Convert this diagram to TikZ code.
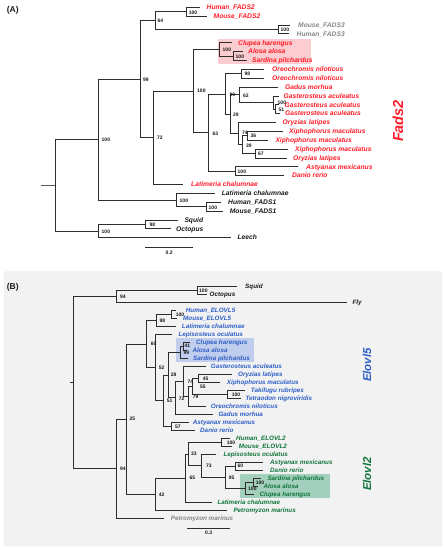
\documentclass[tikz,border=0pt]{standalone}
\usepackage{fontspec}
\setmainfont{Liberation Sans}
\definecolor{lc}{RGB}{45,45,45}
\definecolor{fred}{RGB}{255,28,40}
\definecolor{fblue}{RGB}{45,95,200}
\definecolor{fgreen}{RGB}{18,118,58}
\definecolor{fgray}{RGB}{135,135,135}
\definecolor{fblack}{RGB}{25,25,25}
\definecolor{pinkbox}{RGB}{252,205,208}
\definecolor{bluebox}{RGB}{193,205,236}
\definecolor{greenbox}{RGB}{162,208,188}
\definecolor{panelbg}{RGB}{242,242,242}
\definecolor{panelbd}{RGB}{228,228,228}
% leaf: id, parent, y, line end x, label x, colour, style, text
\newcommand\treeleaf[8]{%
  \coordinate (e#1) at (#4,#3);
  \draw[br] (#2) |- (e#1);
  \node[#7, text=#6] (t#1) at (#5,#3) {#8};}
\newcommand\bsv[4]{\node[bsl] (#1) at (#2,#3) {#4};}
\newcommand\edge[2]{\draw[br] (#1) |- (#2);}
\begin{document}
\begin{tikzpicture}[x=1pt,y=-1pt,
  br/.style={draw=lc, line width=0.8pt},
  lfA/.style={font=\fontsize{6.7}{7}\selectfont\bfseries\itshape, inner sep=0pt, anchor=base west, yshift=-2.3pt},
  lfB/.style={font=\fontsize{6.3}{7}\selectfont\bfseries\itshape, inner sep=0pt, anchor=base west, yshift=-2.2pt},
  bsl/.style={font=\fontsize{5}{5}\selectfont\bfseries, text=fblack, inner sep=0pt, anchor=west},
  plab/.style={font=\fontsize{8.5}{9}\selectfont\bfseries, text=fblack, inner sep=0pt, anchor=west},
  clab/.style={font=\bfseries\itshape, inner sep=0pt, rotate=90}]
\useasboundingbox (0,0) rectangle (446,550);

% ---------- backgrounds ----------
\path[fill=panelbg, draw=panelbd, rounded corners=3pt] (4,271.5) rectangle (442,546);
\path[fill=pinkbox] (218,39) rectangle (311,63.5);
\path[fill=bluebox] (176,338.3) rectangle (253.5,362);
\path[fill=greenbox] (240,474) rectangle (330,497.7);

% ================= PANEL A =================
\node[plab] (labA) at (6.7,10.3) {(A)};
\coordinate (aR0) at (40.7,185.3);
\coordinate (aR) at (55,185.3);
\coordinate (a100a) at (98,139.585);
\coordinate (aInv) at (98,231.015);
\coordinate (a99) at (140,79.165);
\coordinate (aF1a) at (176,200.005);
\coordinate (aF1) at (206,206.65);
\coordinate (a64) at (155,20.59);
\coordinate (a72) at (153,137.74);
\coordinate (aF2) at (186,11.73);
\coordinate (aF3) at (278,29.45);
\coordinate (a100b) at (193,90.985);
\coordinate (aClu) at (219,49.385);
\coordinate (aAS) at (233,56.03);
\coordinate (a63) at (208.7,132.585);
\coordinate (aX) at (225.5,93.96);
\coordinate (aOre) at (241.7,73.75);
\coordinate (a29) at (230.3,114.17);
\coordinate (a62) at (239.5,94.79);
\coordinate (aGB) at (273.3,102.545);
\coordinate (aGA) at (275.3,109.19);
\coordinate (a74) at (238,133.555);
\coordinate (a39) at (242.7,144.63);
\coordinate (a36) at (247,135.77);
\coordinate (a67) at (255.3,153.49);
\coordinate (aAD) at (235,171.21);
\coordinate (aSO) at (145.7,224.37);

\draw[br, line width=1.4pt, draw=lc!80] (aR0) -- (aR);
\edge{aR}{a100a} \edge{aR}{aInv}
\edge{a100a}{a99} \edge{a100a}{aF1a}
\edge{a99}{a64} \edge{a99}{a72}
\edge{a64}{aF2} \edge{a64}{aF3}
\edge{a72}{a100b}
\edge{a100b}{aClu} \edge{a100b}{a63}
\edge{aClu}{aAS}
\edge{a63}{aX} \edge{a63}{aAD}
\edge{aX}{aOre} \edge{aX}{a29}
\edge{a29}{a62} \edge{a29}{a74}
\edge{a62}{aGB} \edge{aGB}{aGA}
\edge{a74}{a39}
\edge{a39}{a36} \edge{a39}{a67}
\edge{aF1a}{aF1}
\edge{aInv}{aSO}

\treeleaf{a1}{aF2}{7.3}{200}{206.5}{fred}{lfA}{Human\_FADS2}
\treeleaf{a2}{aF2}{16.16}{207}{213.5}{fred}{lfA}{Mouse\_FADS2}
\treeleaf{a3}{aF3}{25.02}{290}{298}{fgray}{lfA}{Mouse\_FADS3}
\treeleaf{a4}{aF3}{33.88}{289}{296.5}{fgray}{lfA}{Human\_FADS3}
\treeleaf{a5}{aClu}{42.74}{232}{238}{fred}{lfA}{Clupea harengus}
\treeleaf{a6}{aAS}{51.6}{243}{248}{fred}{lfA}{Alosa alosa}
\treeleaf{a7}{aAS}{60.46}{247}{252}{fred}{lfA}{Sardina pilchardus}
\treeleaf{a8}{aOre}{69.32}{264}{272}{fred}{lfA}{Oreochromis niloticus}
\treeleaf{a9}{aOre}{78.18}{264}{272}{fred}{lfA}{Oreochromis niloticus}
\treeleaf{a10}{a62}{87.04}{278}{285}{fred}{lfA}{Gadus morhua}
\treeleaf{a11}{aGB}{95.9}{279}{283.5}{fred}{lfA}{Gasterosteus aculeatus}
\treeleaf{a12}{aGA}{104.76}{279}{284.5}{fred}{lfA}{Gasterosteus aculeatus}
\treeleaf{a13}{aGA}{113.62}{280}{285}{fred}{lfA}{Gasterosteus aculeatus}
\treeleaf{a14}{a74}{122.48}{276}{282.5}{fred}{lfA}{Oryzias latipes}
\treeleaf{a15}{a36}{131.34}{283}{289}{fred}{lfA}{Xiphophorus maculatus}
\treeleaf{a16}{a36}{140.2}{268}{275.3}{fred}{lfA}{Xiphophorus maculatus}
\treeleaf{a17}{a67}{149.06}{288}{295}{fred}{lfA}{Xiphophorus maculatus}
\treeleaf{a18}{a67}{157.92}{287}{293}{fred}{lfA}{Oryzias latipes}
\treeleaf{a19}{aAD}{166.78}{298}{306}{fred}{lfA}{Astyanax mexicanus}
\treeleaf{a20}{aAD}{175.64}{284}{292}{fred}{lfA}{Danio rerio}
\treeleaf{a21}{a72}{184.5}{183}{191}{fred}{lfA}{Latimeria chalumnae}
\treeleaf{a22}{aF1a}{193.36}{215}{221.7}{fblack}{lfA}{Latimeria chalumnae}
\treeleaf{a23}{aF1}{202.22}{221}{228}{fblack}{lfA}{Human\_FADS1}
\treeleaf{a24}{aF1}{211.08}{223}{229.7}{fblack}{lfA}{Mouse\_FADS1}
\treeleaf{a25}{aSO}{219.94}{178}{184.3}{fblack}{lfA}{Squid}
\treeleaf{a26}{aSO}{228.8}{171}{176}{fblack}{lfA}{Octopus}
\treeleaf{a27}{aInv}{237.66}{231}{237.3}{fblack}{lfA}{Leech}

\bsv{ba1}{188.7}{12.3}{100}
\bsv{ba2}{157.5}{21}{64}
\bsv{ba3}{280.5}{30}{100}
\bsv{ba4}{143}{80}{99}
\bsv{ba5}{222.5}{50}{100}
\bsv{ba6}{235.5}{57}{100}
\bsv{ba7}{244.5}{74}{98}
\bsv{ba8}{197}{91}{100}
\bsv{ba9}{229.5}{94.3}{99}
\bsv{ba10}{243}{95.7}{62}
\bsv{ba11}{277.5}{102.7}{100}
\bsv{ba12}{278.5}{109.5}{51}
\bsv{ba13}{233}{115}{29}
\bsv{ba14}{242}{132.3}{74}
\bsv{ba15}{250.5}{136}{36}
\bsv{ba16}{246}{145.5}{39}
\bsv{ba17}{258}{154}{67}
\bsv{ba18}{212.5}{133.3}{63}
\bsv{ba19}{237.5}{171.5}{100}
\bsv{ba20}{157}{137.5}{72}
\bsv{ba21}{179.5}{200.5}{100}
\bsv{ba22}{208.5}{207.5}{100}
\bsv{ba23}{101.5}{140}{100}
\bsv{ba24}{149.5}{225}{98}
\bsv{ba25}{101.5}{231.5}{100}

\coordinate (sa1) at (145,247.7);
\coordinate (sa2) at (193.3,247.7);
\draw[br] (sa1) -- (sa2);
\node[font=\fontsize{5}{5}\selectfont\bfseries, text=fblack, inner sep=0pt] (sal) at (169.2,253) {0.2};
\node[clab, text=fred, font=\fontsize{14.5}{15}\selectfont\bfseries\itshape] (fads) at (398,121) {Fads2};

% ================= PANEL B =================
\node[plab] (labB) at (6.7,287.3) {(B)};
\coordinate (bR0) at (70,382.6);
\coordinate (bR) at (73.3,382.6);
\coordinate (b94a) at (116.7,296.67);
\coordinate (bSO) at (197.7,290.69);
\coordinate (b94b) at (116.7,468.535);
\coordinate (b25) at (126,419.07);
\coordinate (b60) at (146.5,344.12);
\coordinate (b98) at (156.7,320.6);
\coordinate (bHM5) at (171.7,314.615);
\coordinate (b52) at (155,367.645);
\coordinate (b51) at (163.3,400.73);
\coordinate (b28) at (168.3,375.185);
\coordinate (b99) at (180,352.5);
\coordinate (b41) at (183.3,346.52);
\coordinate (b72) at (175,397.87);
\coordinate (b74) at (183.3,381.415);
\coordinate (b79) at (188.5,396.37);
\coordinate (b55) at (192,386.4);
\coordinate (b45) at (198.3,378.425);
\coordinate (bTT) at (227.7,394.375);
\coordinate (bAD5) at (171,426.28);
\coordinate (b42) at (155,494.015);
\coordinate (b65) at (185,478.0);
\coordinate (b33) at (188,453.95);
\coordinate (bHM2) at (221.7,442.23);
\coordinate (b73) at (201.7,465.665);
\coordinate (b95) at (225,477.13);
\coordinate (b60g) at (235,466.16);
\coordinate (b100d) at (245,488.095);
\coordinate (b100c) at (253.3,482.11);

\draw[br] (bR0) -- (bR);
\edge{bR}{b94a} \edge{bR}{b94b}
\edge{b94a}{bSO}
\edge{b94b}{b25}
\edge{b25}{b60} \edge{b25}{b42}
\edge{b60}{b98} \edge{b60}{b52}
\edge{b98}{bHM5}
\edge{b52}{b51}
\edge{b51}{b28} \edge{b51}{bAD5}
\edge{b28}{b99} \edge{b28}{b72}
\edge{b99}{b41}
\edge{b72}{b74}
\edge{b74}{b79}
\edge{b79}{b55}
\edge{b55}{b45} \edge{b55}{bTT}
\edge{b42}{b65}
\edge{b65}{b33}
\edge{b33}{bHM2} \edge{b33}{b73}
\edge{b73}{b95}
\edge{b95}{b60g} \edge{b95}{b100d}
\edge{b100d}{b100c}

\treeleaf{b1}{bSO}{286.7}{237}{245}{fblack}{lfB}{Squid}
\treeleaf{b2}{bSO}{294.68}{207}{209.5}{fblack}{lfB}{Octopus}
\treeleaf{b3}{b94a}{302.65}{346.7}{352.3}{fblack}{lfB}{Fly}
\treeleaf{b4}{bHM5}{310.63}{176}{185.7}{fblue}{lfB}{Human\_ELOVL5}
\treeleaf{b5}{bHM5}{318.6}{177}{183}{fblue}{lfB}{Mouse\_ELOVL5}
\treeleaf{b6}{b98}{326.58}{176}{181.7}{fblue}{lfB}{Latimeria chalumnae}
\treeleaf{b7}{b52}{334.56}{172}{178.3}{fblue}{lfB}{Lepisosteus oculatus}
\treeleaf{b8}{b41}{342.53}{190}{196}{fblue}{lfB}{Clupea harengus}
\treeleaf{b9}{b41}{350.51}{187}{192.3}{fblue}{lfB}{Alosa alosa}
\treeleaf{b10}{b99}{358.48}{188}{193}{fblue}{lfB}{Sardina pilchardus}
\treeleaf{b11}{b74}{366.46}{206}{210.7}{fblue}{lfB}{Gasterosteus aculeatus}
\treeleaf{b12}{b45}{374.44}{232}{238}{fblue}{lfB}{Oryzias latipes}
\treeleaf{b13}{b45}{382.41}{220}{226.7}{fblue}{lfB}{Xiphophorus maculatus}
\treeleaf{b14}{bTT}{390.39}{245}{250.7}{fblue}{lfB}{Takifugu rubripes}
\treeleaf{b15}{bTT}{398.36}{241}{245.3}{fblue}{lfB}{Tetraodon nigroviridis}
\treeleaf{b16}{b79}{406.34}{206}{210.7}{fblue}{lfB}{Oreochromis niloticus}
\treeleaf{b17}{b72}{414.32}{213}{218.3}{fblue}{lfB}{Gadus morhua}
\treeleaf{b18}{bAD5}{422.29}{189}{192.7}{fblue}{lfB}{Astyanax mexicanus}
\treeleaf{b19}{bAD5}{430.27}{195}{200}{fblue}{lfB}{Danio rerio}
\treeleaf{b20}{bHM2}{438.24}{230}{236}{fgreen}{lfB}{Human\_ELOVL2}
\treeleaf{b21}{bHM2}{446.22}{232}{238.7}{fgreen}{lfB}{Mouse\_ELOVL2}
\treeleaf{b22}{b73}{454.2}{216}{223.3}{fgreen}{lfB}{Lepisosteus oculatus}
\treeleaf{b23}{b60g}{462.17}{263}{270}{fgreen}{lfB}{Astyanax mexicanus}
\treeleaf{b24}{b60g}{470.15}{263}{270}{fgreen}{lfB}{Danio rerio}
\treeleaf{b25}{b100c}{478.12}{261}{267.3}{fgreen}{lfB}{Sardina pilchardus}
\treeleaf{b26}{b100c}{486.1}{258}{263.3}{fgreen}{lfB}{Alosa alosa}
\treeleaf{b27}{b100d}{494.08}{254}{259.3}{fgreen}{lfB}{Clupea harengus}
\treeleaf{b28}{b65}{502.05}{212}{217.3}{fgreen}{lfB}{Latimeria chalumnae}
\treeleaf{b29}{b42}{510.03}{227}{233.3}{fgreen}{lfB}{Petromyzon marinus}
\treeleaf{b30}{b94b}{518.0}{164}{170.7}{fgray}{lfB}{Petromyzon marinus}

\bsv{bb1}{199}{290.5}{100}
\bsv{bb2}{120}{296.7}{94}
\bsv{bb3}{175.7}{314.3}{100}
\bsv{bb4}{159.3}{320.7}{98}
\bsv{bb5}{150.7}{343.7}{60}
\bsv{bb6}{184.3}{346}{41}
\bsv{bb7}{183.3}{352.3}{99}
\bsv{bb8}{158.7}{367.7}{52}
\bsv{bb9}{170.7}{374.3}{28}
\bsv{bb10}{202.7}{378.3}{45}
\bsv{bb11}{187.3}{381.7}{74}
\bsv{bb12}{200}{386.7}{55}
\bsv{bb13}{231.7}{394.3}{100}
\bsv{bb14}{192.7}{396.7}{79}
\bsv{bb15}{178.7}{398.3}{72}
\bsv{bb16}{166.7}{400.7}{51}
\bsv{bb17}{175}{426.7}{57}
\bsv{bb18}{129.3}{419}{25}
\bsv{bb19}{226.7}{442.3}{100}
\bsv{bb20}{191}{454}{33}
\bsv{bb21}{206}{466}{73}
\bsv{bb22}{237.3}{466}{60}
\bsv{bb23}{228.7}{477.7}{95}
\bsv{bb24}{255.7}{482.3}{100}
\bsv{bb25}{248}{488.3}{100}
\bsv{bb26}{189.3}{477.7}{65}
\bsv{bb27}{158.7}{494.3}{42}
\bsv{bb28}{120}{468.3}{94}

\coordinate (sb1) at (187.3,528.3);
\coordinate (sb2) at (230,528.3);
\draw[br] (sb1) -- (sb2);
\node[font=\fontsize{5}{5}\selectfont\bfseries, text=fblack, inner sep=0pt] (sbl) at (208.7,532.5) {0.3};
\node[clab, text=fblue, font=\fontsize{11.5}{12}\selectfont\bfseries\itshape] (elo5) at (367,365) {Elovl5};
\node[clab, text=fgreen, font=\fontsize{11.5}{12}\selectfont\bfseries\itshape] (elo2) at (367,474) {Elovl2};
\end{tikzpicture}
\end{document}
